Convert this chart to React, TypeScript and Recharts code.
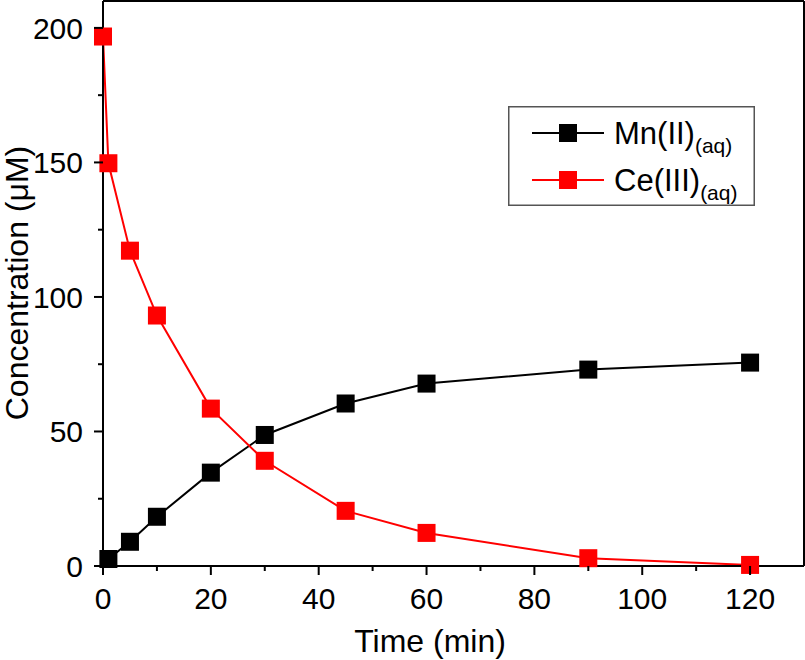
import React from 'react';
import {
  LineChart,
  Line,
  XAxis,
  YAxis,
  ReferenceLine,
  Label,
} from 'recharts';

// ── data ──────────────────────────────────────────────

const times = [0, 1, 5, 10, 20, 30, 45, 60, 90, 120];
const mnValues: (number | null)[] = [null, 2.6, 9.0, 18.3, 34.7, 48.7, 60.4, 67.8, 73.0, 75.6];
const ceValues = [196.8, 149.7, 117.2, 93.1, 58.5, 39.1, 20.5, 12.3, 2.9, 0.4];

const xTicks = [0, 10, 20, 30, 40, 50, 60, 70, 80, 90, 100, 110, 120];
const yTicks = [0, 25, 50, 75, 100, 125, 150, 175, 200];

const data = times.map((t, i) => ({ time: t, mn: mnValues[i], ce: ceValues[i] }));

const FONT = '"Liberation Sans", Arial, sans-serif';

// ── custom pieces ─────────────────────────────────────

// eslint-disable-next-line @typescript-eslint/no-explicit-any
const squareDot = (color: string) => (props: any) => {
  const { cx, cy, index } = props;
  if (cx == null || cy == null || Number.isNaN(cy)) return <g key={`d-${index}`} />;
  return <rect key={`d-${index}`} x={cx - 9} y={cy - 9} width={18} height={18} fill={color} />;
};

// eslint-disable-next-line @typescript-eslint/no-explicit-any
const XTick = ({ x, y, payload }: any) => {
  const major = payload.value % 20 === 0;
  return (
    <g>
      <line x1={x} y1={y} x2={x} y2={y + (major ? 9 : 5)} stroke="#000" strokeWidth={2} />
      {major && (
        <text x={x} y={y + 43} textAnchor="middle" fontSize={30} fontFamily={FONT} fill="#000">
          {payload.value}
        </text>
      )}
    </g>
  );
};

// eslint-disable-next-line @typescript-eslint/no-explicit-any
const YTick = ({ x, y, payload }: any) => {
  const major = payload.value % 50 === 0;
  return (
    <g>
      <line x1={x} y1={y} x2={x - (major ? 9 : 5)} y2={y} stroke="#000" strokeWidth={2} />
      {major && (
        <text x={x - 20} y={y + 11} textAnchor="end" fontSize={30} fontFamily={FONT} fill="#000">
          {payload.value}
        </text>
      )}
    </g>
  );
};

const legendRows = [
  { name: 'Mn(II)', color: '#000000' },
  { name: 'Ce(III)', color: '#ff0000' },
];

// Legend box drawn outside the chart so it does not eat plot space
const ChartLegend = () => (
  <svg width={247} height={100} style={{ position: 'absolute', left: 508, top: 106, display: 'block' }}>
    <rect x={0.75} y={0.75} width={245.5} height={98.5} fill="#fff" stroke="#555" strokeWidth={1.5} />
    {legendRows.map((r, i) => {
      const cy = 27 + i * 47;
      return (
        <g key={r.name}>
          <line x1={24} y1={cy} x2={96} y2={cy} stroke={r.color} strokeWidth={2} />
          <rect x={51} y={cy - 9} width={18} height={18} fill={r.color} />
          <text x={106} y={cy + 11} fontSize={31} fontFamily={FONT} fill="#000">
            {r.name}
            <tspan fontSize={21} dy={9}>(aq)</tspan>
          </text>
        </g>
      );
    })}
  </svg>
);

// ── main ─────────────────────────────────────────────

export default function App() {
  return (
    <div style={{ position: 'absolute', left: 0, top: 0, width: 805, height: 660, background: '#fff' }}>
      <LineChart width={805} height={660} data={data} margin={{ top: 1, right: 1, left: 0, bottom: 0 }}>
        <XAxis
          dataKey="time"
          type="number"
          domain={[0, 130]}
          ticks={xTicks}
          interval={0}
          height={94}
          tickSize={0}
          tickMargin={0}
          tick={<XTick />}
          axisLine={{ stroke: '#000', strokeWidth: 2 }}
        >
          <Label
            content={() => (
              <text x={430} y={652} textAnchor="middle" fontSize={32} fontFamily={FONT} fill="#000">
                Time (min)
              </text>
            )}
          />
        </XAxis>
        <YAxis
          type="number"
          domain={[0, 210]}
          ticks={yTicks}
          interval={0}
          width={103}
          tickSize={0}
          tickMargin={0}
          tick={<YTick />}
          axisLine={{ stroke: '#000', strokeWidth: 2 }}
        >
          <Label
            content={() => (
              <text
                x={28}
                y={283}
                textAnchor="middle"
                fontSize={32}
                fontFamily={FONT}
                fill="#000"
                transform="rotate(-90, 28, 283)"
              >
                Concentration (μM)
              </text>
            )}
          />
        </YAxis>

        {/* frame: top and right edges */}
        <ReferenceLine y={210} stroke="#000" strokeWidth={2} ifOverflow="visible" />
        <ReferenceLine x={130} stroke="#000" strokeWidth={2} ifOverflow="visible" />

        <Line
          type="linear"
          dataKey="mn"
          name="Mn(II)"
          stroke="#000000"
          strokeWidth={2}
          dot={squareDot('#000000')}
          activeDot={false}
          isAnimationActive={false}
        />
        <Line
          type="linear"
          dataKey="ce"
          name="Ce(III)"
          stroke="#ff0000"
          strokeWidth={2}
          dot={squareDot('#ff0000')}
          activeDot={false}
          isAnimationActive={false}
        />
      </LineChart>
      <ChartLegend />
    </div>
  );
}
